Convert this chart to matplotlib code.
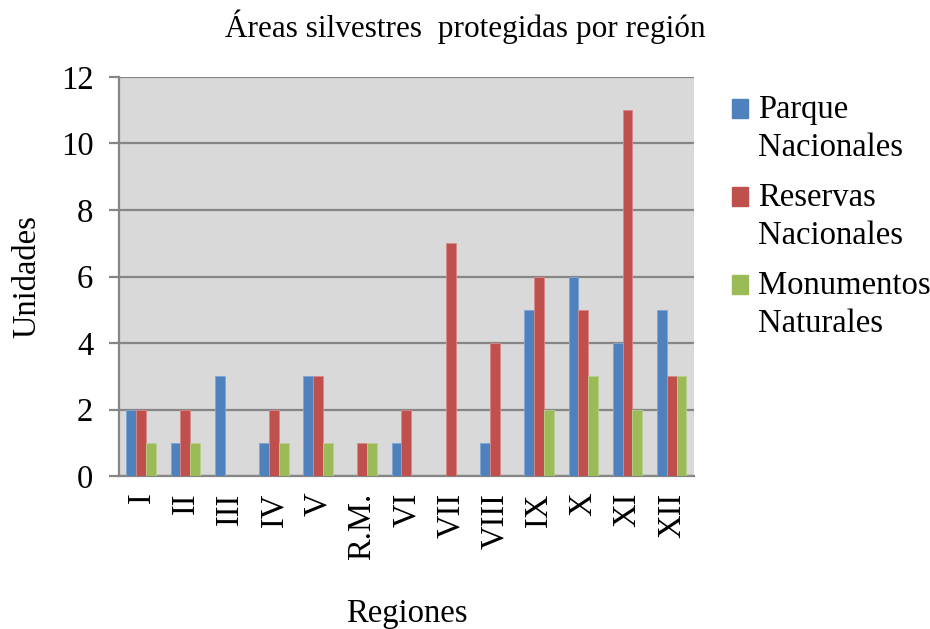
import matplotlib
matplotlib.use("Agg")
import matplotlib.pyplot as plt
import numpy as np
from matplotlib.patches import Patch, Rectangle
from matplotlib.legend_handler import HandlerPatch

regiones = ["I", "II", "III", "IV", "V", "R.M.", "VI", "VII", "VIII", "IX", "X", "XI", "XII"]
parques = [2, 1, 3, 1, 3, 0, 1, 0, 1, 5, 6, 4, 5]
reservas = [2, 2, 0, 2, 3, 1, 2, 7, 4, 6, 5, 11, 3]
monumentos = [1, 1, 0, 1, 1, 1, 0, 0, 0, 2, 3, 2, 3]
series_names = ["Parque\nNacionales", "Reservas\nNacionales", "Monumentos\nNaturales"]
colors = ["#4f81bd", "#c0504d", "#9bbb59"]
edges = ["#7ea6d6", "#d98987", "#b7d08a"]

plt.rcParams["font.family"] = ["Liberation Serif", "DejaVu Serif"]
FS = 23.5

fig = plt.figure(figsize=(9.3, 6.29), dpi=100)
ax = fig.add_axes([0.128, 0.2432, 0.618, 0.6344])
ax.set_facecolor("#d9d9d9")

x = np.arange(len(regiones))
w = 1 / 4.5
for i, vals in enumerate([parques, reservas, monumentos]):
    ax.bar(x + (i - 1) * w, vals, width=w, color=colors[i],
           edgecolor=edges[i], linewidth=0.6, zorder=3)

ax.set_xlim(-0.5, len(regiones) - 0.5)
ax.set_ylim(0, 12)
ax.set_yticks(range(0, 13, 2))
ax.yaxis.grid(True, color="#868686", linewidth=1.6, zorder=1)
ax.set_axisbelow(True)

for s in ["top", "right"]:
    ax.spines[s].set_visible(False)
for s in ["left", "bottom"]:
    ax.spines[s].set_color("#868686")
    ax.spines[s].set_linewidth(1.6)

ax.set_xticks(x)
ax.set_xticklabels(regiones, rotation=90, fontsize=FS)
ax.tick_params(axis="x", length=0, pad=12)
ax.tick_params(axis="y", labelsize=FS, length=7.5, width=1.6, color="#868686", pad=11)

ax.set_ylabel("Unidades", fontsize=FS, labelpad=13)
ax.set_xlabel("Regiones", fontsize=FS, labelpad=28)
fig.suptitle("Áreas silvestres  protegidas por región", fontsize=22.5, y=0.985)


def top_square(legend, orig_handle, xdescent, ydescent, width, height, fontsize):
    # square aligned with the first line of a two-line label
    return Rectangle((-xdescent, -ydescent + 0.62 * fontsize), width, height)


handles = [Patch(facecolor=c, edgecolor=c) for c in colors]
leg = fig.legend(handles, series_names, loc="upper left", bbox_to_anchor=(0.787, 0.85),
                 frameon=False, fontsize=FS, handlelength=0.5, handleheight=0.5,
                 handletextpad=0.3, labelspacing=0.6, borderpad=0, borderaxespad=0,
                 handler_map={Patch: HandlerPatch(patch_func=top_square)})
for t in leg.get_texts():
    t.set_linespacing(1.32)

fig.savefig("out.png", dpi=100)
